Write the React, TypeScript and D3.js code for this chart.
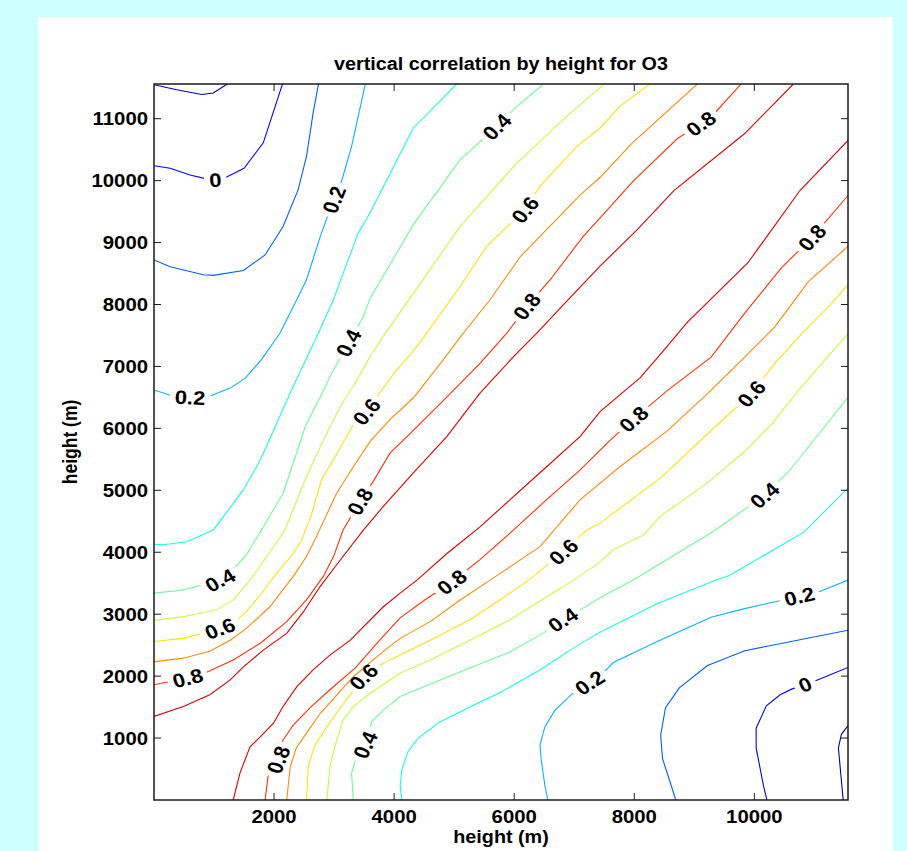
import React from "react";
import * as d3 from "d3";

type Pt = [number, number];

// axis range (m) and contour setup
const heightRange: Pt = [0, 11560];
const colorLimits = [-0.15, 1.0];
const xTicks = [2000, 4000, 6000, 8000, 10000];
const yTicks = [1000, 2000, 3000, 4000, 5000, 6000, 7000, 8000, 9000, 10000, 11000];

// contour lines, [height x (m), height y (m)]
// "a" = upper-left half, "b" = lower-right half
const m01a: Pt[] = [[0, 11547], [378, 11466], [795, 11391], [988, 11414], [1221, 11560]];
const m01b: Pt[] = [[11480, 0], [11400, 840], [11450, 1060], [11560, 1200]];
const p00a: Pt[] = [[0, 10240], [270, 10200], [600, 10090], [820, 10040], [1020, 10010], [1210, 10060], [1500, 10200], [1820, 10610], [2140, 11560]];
const p00b: Pt[] = [[10210, 0], [10150, 240], [10030, 840], [10030, 1160], [10200, 1520], [10430, 1700], [10620, 1790], [11010, 1920], [11560, 2140]];
const p01a: Pt[] = [[0, 8720], [270, 8610], [820, 8480], [990, 8470], [1490, 8550], [1850, 8800], [2150, 9260], [2400, 9850], [2540, 10390], [2650, 11090], [2740, 11560]];
const p01b: Pt[] = [[8690, 0], [8630, 190], [8470, 670], [8440, 1050], [8520, 1490], [8750, 1810], [9220, 2170], [9840, 2410], [11560, 2740]];
const p02a: Pt[] = [[0, 6620], [350, 6510], [850, 6490], [1270, 6650], [1520, 6810], [1790, 7110], [2100, 7540], [2380, 8080], [2540, 8400], [2770, 9100], [2930, 9530], [3130, 10010], [3290, 10550], [3520, 11560]];
const p02b: Pt[] = [[6560, 0], [6510, 240], [6450, 650], [6430, 890], [6510, 1180], [6680, 1450], [6960, 1710], [7430, 2000], [7650, 2220], [8410, 2570], [9280, 2950], [9840, 3090], [11070, 3360], [11560, 3550]];
const p03a: Pt[] = [[0, 4130], [155, 4120], [545, 4170], [990, 4360], [1490, 5010], [1770, 5490], [2020, 6030], [2320, 6680], [2710, 7480], [2990, 8080], [3130, 8450], [3400, 9150], [3600, 9480], [3820, 9900], [4320, 10850], [5040, 11560]];
const p03b: Pt[] = [[4130, 0], [4100, 240], [4130, 490], [4230, 780], [4400, 1000], [4760, 1260], [5260, 1500], [5760, 1730], [6430, 2100], [6930, 2420], [7430, 2710], [8380, 3170], [9330, 3540], [9590, 3630], [10820, 4320], [11560, 5040]];
const p04a: Pt[] = [[0, 3340], [490, 3390], [1100, 3550], [1320, 3720], [1540, 3960], [1790, 4360], [2150, 4950], [2520, 6030], [2770, 6510], [2960, 6890], [3240, 7380], [3490, 7810], [3600, 8100], [4320, 9290], [5100, 10340], [5710, 10870], [6040, 11200], [6490, 11560]];
const p04b: Pt[] = [[3320, 0], [3290, 430], [3370, 690], [3520, 890], [3630, 1270], [3820, 1450], [4100, 1670], [4600, 1870], [5260, 2130], [5930, 2390], [6510, 2710], [6810, 2910], [7100, 3070], [7510, 3310], [7960, 3540], [9310, 4330], [10170, 4920], [10570, 5300], [11560, 6500]];
const p05a: Pt[] = [[0, 2900], [490, 2960], [1040, 3070], [1320, 3230], [1600, 3550], [1900, 3960], [2180, 4360], [2540, 5220], [2820, 5810], [3100, 6350], [3380, 6780], [3600, 7160], [3820, 7490], [4320, 8180], [5100, 9260], [6040, 10280], [6880, 11040], [7500, 11560]];
const p05b: Pt[] = [[2880, 0], [2930, 540], [3020, 890], [3150, 1290], [3320, 1510], [3600, 1720], [4100, 2050], [4600, 2260], [5260, 2580], [5930, 2910], [6510, 3260], [6990, 3550], [7430, 3840], [7650, 4040], [8160, 4280], [8430, 4580], [9220, 5120], [9840, 5630], [10290, 6070], [10730, 6610], [11560, 7530]];
const p06a: Pt[] = [[0, 2560], [490, 2610], [1100, 2770], [1350, 2880], [1540, 3040], [1770, 3310], [2040, 3660], [2320, 3980], [2460, 4200], [2620, 4600], [2790, 5170], [3070, 5630], [3320, 6060], [3540, 6270], [3710, 6510], [4040, 6940], [4270, 7190], [4460, 7430], [5100, 8290], [5540, 8940], [6180, 9530], [6430, 9910], [7040, 10550], [7430, 10850], [7760, 11200], [8260, 11560]];
const p06b: Pt[] = [[2540, 0], [2570, 540], [2680, 890], [2880, 1180], [3040, 1400], [3490, 1990], [3820, 2210], [4100, 2340], [4600, 2580], [5260, 2910], [5760, 3230], [6240, 3550], [6820, 4010], [7210, 4360], [7430, 4470], [8440, 5200], [9330, 6010], [9950, 6560], [10340, 7050], [10790, 7530], [11260, 7990], [11560, 8320]];
const p07a: Pt[] = [[0, 2230], [490, 2290], [930, 2400], [1270, 2580], [1540, 2770], [1930, 3120], [2320, 3610], [2540, 3930], [2680, 4200], [3040, 4950], [3320, 5380], [3600, 5790], [3930, 6140], [4320, 6490], [4820, 7110], [5130, 7510], [5600, 8080], [6100, 8770], [7100, 9770], [7430, 10050], [7960, 10600], [9050, 11560]];
const p07b: Pt[] = [[2210, 0], [2270, 540], [2370, 840], [2540, 1080], [2770, 1400], [3020, 1670], [3320, 1990], [3820, 2400], [4100, 2610], [4600, 2880], [5100, 3230], [5600, 3550], [6430, 4090], [7100, 4850], [7760, 5380], [8550, 5960], [9220, 6560], [9840, 7150], [10340, 7640], [10900, 8370], [11560, 8940]];
const p08a: Pt[] = [[0, 1860], [560, 1970], [850, 2050], [1320, 2260], [1770, 2530], [2210, 2880], [2540, 3230], [2820, 3610], [2990, 3930], [3150, 4360], [3430, 4820], [3650, 5140], [3930, 5600], [4270, 5920], [4880, 6510], [5430, 7050], [5880, 7540], [6210, 7970], [6600, 8400], [7150, 9100], [7430, 9400], [7990, 10000], [8720, 10680], [9110, 10920], [9330, 11080], [9780, 11560]];
const p08b: Pt[] = [[1850, 0], [1900, 380], [2070, 650], [2150, 970], [2320, 1210], [2600, 1490], [2930, 1780], [3350, 2130], [3730, 2550], [4100, 2940], [4510, 3230], [4960, 3520], [5430, 3880], [5990, 4360], [6540, 4850], [7100, 5330], [7600, 5810], [7990, 6150], [8550, 6610], [9280, 7150], [9840, 7860], [10450, 8590], [10960, 9080], [11560, 9760]];
const p09a: Pt[] = [[0, 1350], [490, 1510], [930, 1700], [1270, 1940], [1490, 2150], [1820, 2420], [2210, 2690], [2490, 3040], [2770, 3450], [3020, 3770], [3490, 4360], [3820, 4740], [4320, 5280], [4880, 5870], [5430, 6570], [5990, 7160], [6380, 7540], [6900, 8080], [7430, 8620], [8050, 9210], [8660, 9840], [9840, 10760], [10650, 11560]];
const p09b: Pt[] = [[1320, 0], [1430, 430], [1600, 860], [1770, 1020], [1990, 1240], [2150, 1510], [2380, 1830], [2650, 2100], [2930, 2340], [3270, 2580], [3820, 3120], [4100, 3340], [4380, 3550], [4880, 3980], [5430, 4410], [6540, 5380], [7100, 5870], [7430, 6270], [8100, 6820], [8430, 7190], [8890, 7720], [9890, 8670], [10760, 9840], [11560, 10650]];

const contourLines = [
  { key: "m01a", level: -0.1, points: m01a }, { key: "m01b", level: -0.1, points: m01b },
  { key: "p00a", level: 0, points: p00a }, { key: "p00b", level: 0, points: p00b },
  { key: "p01a", level: 0.1, points: p01a }, { key: "p01b", level: 0.1, points: p01b },
  { key: "p02a", level: 0.2, points: p02a }, { key: "p02b", level: 0.2, points: p02b },
  { key: "p03a", level: 0.3, points: p03a }, { key: "p03b", level: 0.3, points: p03b },
  { key: "p04a", level: 0.4, points: p04a }, { key: "p04b", level: 0.4, points: p04b },
  { key: "p05a", level: 0.5, points: p05a }, { key: "p05b", level: 0.5, points: p05b },
  { key: "p06a", level: 0.6, points: p06a }, { key: "p06b", level: 0.6, points: p06b },
  { key: "p07a", level: 0.7, points: p07a }, { key: "p07b", level: 0.7, points: p07b },
  { key: "p08a", level: 0.8, points: p08a }, { key: "p08b", level: 0.8, points: p08b },
  { key: "p09a", level: 0.9, points: p09a }, { key: "p09b", level: 0.9, points: p09b },
];

// inline contour labels: which line, and roughly where (m)
const labelSpots: { key: string; at: Pt }[] = [
  { key: "p00a", at: [1020, 10010] },
  { key: "p00b", at: [10840, 1880] },
  { key: "p02a", at: [600, 6490] },
  { key: "p02a", at: [3000, 9690] },
  { key: "p02b", at: [7260, 1890] },
  { key: "p02b", at: [10750, 3290] },
  { key: "p04a", at: [1100, 3550] },
  { key: "p04a", at: [3240, 7380] },
  { key: "p04a", at: [5710, 10870] },
  { key: "p04b", at: [3520, 890] },
  { key: "p04b", at: [6810, 2910] },
  { key: "p04b", at: [10170, 4920] },
  { key: "p06a", at: [1100, 2770] },
  { key: "p06a", at: [3540, 6270] },
  { key: "p06a", at: [6180, 9530] },
  { key: "p06b", at: [3490, 1990] },
  { key: "p06b", at: [6820, 4010] },
  { key: "p06b", at: [9950, 6560] },
  { key: "p08a", at: [560, 1970] },
  { key: "p08a", at: [3430, 4820] },
  { key: "p08a", at: [6210, 7970] },
  { key: "p08a", at: [9110, 10920] },
  { key: "p08b", at: [2070, 650] },
  { key: "p08b", at: [4960, 3520] },
  { key: "p08b", at: [7990, 6150] },
  { key: "p08b", at: [10960, 9080] },
];

const W = 907;
const H = 851;
const font = "'Liberation Sans', Arial, Helvetica, sans-serif";
const sx = 1.13; // the original text is a little wide
const labelSize = 19.5;
const axisSize = 18;

// matlab jet
function jet(t: number) {
  const c = (v: number) => Math.round(255 * Math.max(0, Math.min(1, v)));
  return d3.rgb(c(1.5 - Math.abs(4 * t - 3)), c(1.5 - Math.abs(4 * t - 2)), c(1.5 - Math.abs(4 * t - 1))).formatHex();
}

function labelText(v: number) {
  return v === 0 ? "0" : d3.format(".1f")(v);
}

function textWidth(s: string, size: number) {
  let w = 0;
  for (const ch of s) w += ch === "." ? 0.278 : 0.556;
  return w * size * sx;
}

// snap a point onto a screen polyline, return position and text angle
function placeOnLine(pts: Pt[], p: Pt) {
  const cum = [0];
  for (let i = 1; i < pts.length; i++) cum.push(cum[i - 1] + Math.hypot(pts[i][0] - pts[i - 1][0], pts[i][1] - pts[i - 1][1]));
  let best = { d: Infinity, s: 0, x: 0, y: 0 };
  for (let i = 0; i < pts.length - 1; i++) {
    const [x1, y1] = pts[i];
    const [x2, y2] = pts[i + 1];
    const dx = x2 - x1, dy = y2 - y1;
    const L = dx * dx + dy * dy;
    const t = Math.max(0, Math.min(1, ((p[0] - x1) * dx + (p[1] - y1) * dy) / L));
    const qx = x1 + t * dx, qy = y1 + t * dy;
    const d = Math.hypot(p[0] - qx, p[1] - qy);
    if (d < best.d) best = { d, s: cum[i] + t * Math.sqrt(L), x: qx, y: qy };
  }
  const at = (s: number): Pt => {
    s = Math.max(0, Math.min(cum[cum.length - 1], s));
    let i = 0;
    while (i < cum.length - 2 && cum[i + 1] < s) i++;
    const t = (s - cum[i]) / (cum[i + 1] - cum[i] || 1);
    return [pts[i][0] + t * (pts[i + 1][0] - pts[i][0]), pts[i][1] + t * (pts[i + 1][1] - pts[i][1])];
  };
  const a = at(best.s - 12);
  const b = at(best.s + 12);
  let ang = (Math.atan2(b[1] - a[1], (b[0] - a[0]) / sx) * 180) / Math.PI;
  if (ang > 90) ang -= 180;
  if (ang < -90) ang += 180;
  return { x: best.x, y: best.y, ang };
}

export default function App() {
  const x = d3.scaleLinear().domain(heightRange).range([154, 848]);
  const y = d3.scaleLinear().domain(heightRange).range([800, 84]);
  const colorT = d3.scaleLinear().domain(colorLimits).range([0, 1]);
  const line = d3.line<Pt>().x((d) => x(d[0])).y((d) => y(d[1]));

  const [x0, x1] = x.range();
  const [y0, y1] = y.range();

  const labels = labelSpots.map((l, i) => {
    const c = contourLines.find((c) => c.key === l.key)!;
    const scr = c.points.map((p) => [x(p[0]), y(p[1])] as Pt);
    const pos = placeOnLine(scr, [x(l.at[0]), y(l.at[1])]);
    const txt = labelText(c.level);
    return { id: i, key: l.key, txt, ...pos, w: textWidth(txt, labelSize) + 10 };
  });

  const axisColor = "#1a1a1a";
  const tickLen = 7;

  return (
    <div style={{ position: "absolute", left: 0, top: 0 }}>
      <svg width={W} height={H} style={{ display: "block" }}>
        <rect x={0} y={0} width={W} height={H} fill="#ccffff" />
        <rect x={38} y={17} width={855} height={H - 17} fill="#ffffff" />

        <defs>
          <clipPath id="plot-clip">
            <rect x={x0} y={y1} width={x1 - x0} height={y0 - y1} />
          </clipPath>
          {contourLines.map((c) => (
            <mask id={`gap-${c.key}`} key={c.key} maskUnits="userSpaceOnUse" x={0} y={0} width={W} height={H}>
              <rect x={0} y={0} width={W} height={H} fill="white" />
              {labels
                .filter((l) => l.key === c.key)
                .map((l) => (
                  <rect
                    key={l.id}
                    x={-l.w / 2 / sx}
                    y={-8}
                    width={l.w / sx}
                    height={16}
                    fill="black"
                    transform={`translate(${l.x},${l.y}) scale(${sx},1) rotate(${l.ang})`}
                  />
                ))}
            </mask>
          ))}
        </defs>

        <g clipPath="url(#plot-clip)">
          {contourLines.map((c) => (
            <path
              key={c.key}
              d={line(c.points) ?? ""}
              fill="none"
              stroke={jet(colorT(c.level))}
              strokeWidth={1.1}
              mask={`url(#gap-${c.key})`}
            />
          ))}
        </g>

        {labels.map((l) => (
          <text
            key={l.id}
            transform={`translate(${l.x},${l.y}) scale(${sx},1) rotate(${l.ang})`}
            textAnchor="middle"
            dy="0.36em"
            fontFamily={font}
            fontWeight="bold"
            fontSize={labelSize}
            fill="#000"
          >
            {l.txt}
          </text>
        ))}

        {/* axes box */}
        <rect x={x0} y={y1} width={x1 - x0} height={y0 - y1} fill="none" stroke={axisColor} strokeWidth={1.5} />

        {xTicks.map((t) => (
          <g key={`xt${t}`}>
            <line x1={x(t)} x2={x(t)} y1={y0} y2={y0 - tickLen} stroke={axisColor} strokeWidth={1} />
            <line x1={x(t)} x2={x(t)} y1={y1} y2={y1 + tickLen} stroke={axisColor} strokeWidth={1} />
            <text
              transform={`translate(${x(t)},823) scale(${sx},1)`}
              textAnchor="middle"
              fontFamily={font}
              fontWeight="bold"
              fontSize={axisSize}
            >
              {t}
            </text>
          </g>
        ))}

        {yTicks.map((t) => (
          <g key={`yt${t}`}>
            <line x1={x0} x2={x0 + tickLen} y1={y(t)} y2={y(t)} stroke={axisColor} strokeWidth={1} />
            <line x1={x1} x2={x1 - tickLen} y1={y(t)} y2={y(t)} stroke={axisColor} strokeWidth={1} />
            <text
              transform={`translate(148,${y(t)}) scale(${sx},1)`}
              textAnchor="end"
              dy="0.36em"
              fontFamily={font}
              fontWeight="bold"
              fontSize={axisSize}
            >
              {t}
            </text>
          </g>
        ))}

        <text
          transform={`translate(${(x0 + x1) / 2},70) scale(${sx},1)`}
          textAnchor="middle"
          fontFamily={font}
          fontWeight="bold"
          fontSize={17.5}
        >
          vertical correlation by height for O3
        </text>
        <text
          transform={`translate(${(x0 + x1) / 2},843) scale(${sx},1)`}
          textAnchor="middle"
          fontFamily={font}
          fontWeight="bold"
          fontSize={17.5}
        >
          height (m)
        </text>
        <text
          transform={`translate(77,${(y0 + y1) / 2}) scale(${sx},1) rotate(-90)`}
          textAnchor="middle"
          fontFamily={font}
          fontWeight="bold"
          fontSize={17.5}
        >
          height (m)
        </text>
      </svg>
    </div>
  );
}
